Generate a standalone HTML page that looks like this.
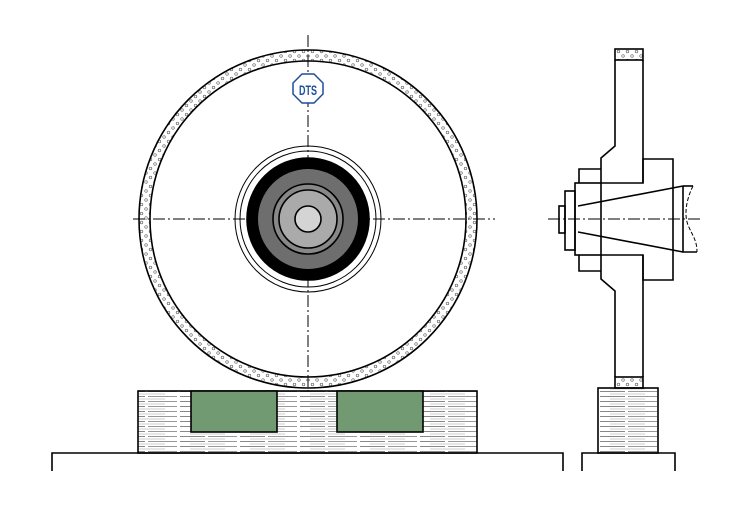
<!DOCTYPE html>
<html><head><meta charset="utf-8"><style>html,body{margin:0;padding:0;background:#fff}svg{display:block}</style></head>
<body>
<svg width="750" height="530" viewBox="0 0 750 530" xmlns="http://www.w3.org/2000/svg">
<defs>
<pattern id="dots" width="9" height="9" patternUnits="userSpaceOnUse">
<circle cx="2" cy="2" r="1.3" fill="none" stroke="#666" stroke-width="0.7"/>
<circle cx="6.5" cy="6.5" r="1.3" fill="none" stroke="#666" stroke-width="0.7"/>
</pattern>
<pattern id="hatch" width="60" height="5" patternUnits="userSpaceOnUse">
<line x1="0" y1="1.5" x2="25" y2="1.5" stroke="#888" stroke-width="0.9"/>
<line x1="28" y1="1.5" x2="57" y2="1.5" stroke="#999" stroke-width="0.9"/>
<line x1="10" y1="4" x2="45" y2="4" stroke="#bbb" stroke-width="0.7"/>
</pattern>
</defs>
<g stroke="#000" stroke-width="1" stroke-dasharray="12,3,2,3" fill="none">
<line x1="308" y1="35" x2="308" y2="395"/>
<line x1="133" y1="219" x2="495" y2="219"/>
<line x1="548" y1="219" x2="700" y2="219"/>
</g>
<g fill="none" stroke="#000" stroke-width="1.6">
<circle cx="308" cy="219" r="163.5" stroke="url(#dots)" stroke-width="11"/>
<circle cx="308" cy="219" r="169"/>
<circle cx="308" cy="219" r="158"/>
<circle cx="308" cy="219" r="73" stroke-width="1"/>
<circle cx="308" cy="219" r="68" stroke-width="1"/>
<circle cx="308" cy="219" r="61" fill="#000"/>
<circle cx="308" cy="219" r="50" fill="#6e6e6e" stroke="none"/>
<circle cx="308" cy="219" r="35" fill="#888"/>
<circle cx="308" cy="219" r="29" fill="#aaa"/>
<circle cx="308" cy="219" r="13" fill="#d4d4d4"/>
</g>
<polygon points="302,74 314,74 323,83 323,94 314,103 302,103 293,94 293,83" fill="#fff" stroke="#1d4f9a" stroke-width="1.5"/>
<text x="308" y="95" text-anchor="middle" font-family="Liberation Sans Narrow, Liberation Sans, sans-serif" font-weight="bold" font-size="14" fill="#1d4f9a" textLength="18" lengthAdjust="spacingAndGlyphs">DTS</text>
<rect x="138" y="391" width="339" height="62" fill="url(#hatch)" stroke="#000" stroke-width="1.6"/>
<rect x="191" y="391" width="86" height="41" fill="#729a72" stroke="#000" stroke-width="1.6"/>
<rect x="337" y="391" width="86" height="41" fill="#729a72" stroke="#000" stroke-width="1.6"/>
<polyline points="52,471 52,453 563,453 563,471" fill="none" stroke="#000" stroke-width="1.6"/>
<rect x="598" y="388" width="60" height="65" fill="url(#hatch)" stroke="#000" stroke-width="1.6"/>
<polyline points="582,471 582,453 675,453 675,471" fill="none" stroke="#000" stroke-width="1.6"/>
<rect x="615" y="49" width="28" height="11" fill="url(#dots)" stroke="#000" stroke-width="1.6"/>
<rect x="615" y="377" width="28" height="11" fill="url(#dots)" stroke="#000" stroke-width="1.6"/>
<g fill="none" stroke="#000" stroke-width="1.6">
<polyline points="615,60 615,146 601,158 601,183 643,183 643,60"/>
<polyline points="615,377 615,291 601,279 601,255 643,255 643,377"/>
<polyline points="643,183 643,159 673,159 673,280 643,280 643,255"/>
<polyline points="601,169 579,169 579,183"/>
<polyline points="601,271 579,271 579,255"/>
<rect x="575" y="183" width="26" height="72"/>
<rect x="565" y="191" width="10" height="59"/>
<rect x="559" y="206" width="6" height="27"/>
<line x1="578" y1="206" x2="683" y2="186"/>
<line x1="578" y1="232" x2="683" y2="252"/>
<polyline points="683,186 683,252 697,252"/>
<line x1="683" y1="186" x2="693" y2="186"/>
<path d="M693,186 C686,200 684,215 688,225 C692,235 697,240 697,252" stroke-width="1" stroke-dasharray="4,2"/>
</g>
</svg>
</body></html>
